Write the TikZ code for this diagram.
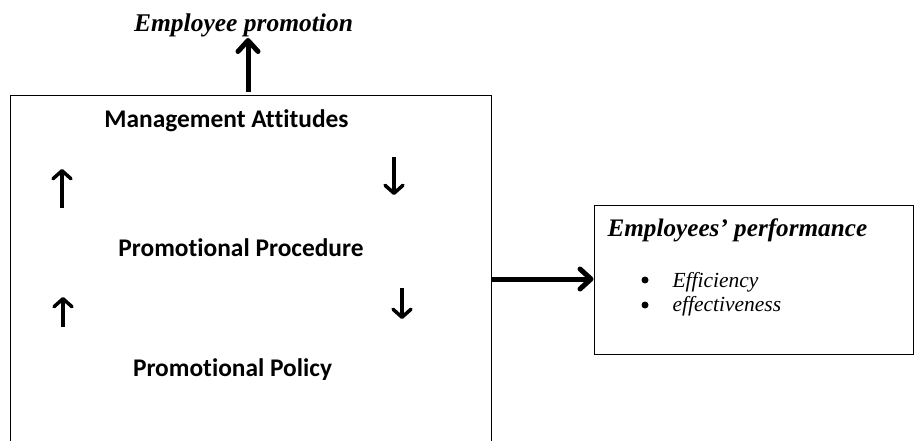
\documentclass[tikz,border=0pt]{standalone}
\usepackage{fontspec}
\setmainfont{Liberation Serif}
\newfontfamily\calibri[Ligatures=NoCommon]{Carlito}
\usepackage{tikz}
\usetikzlibrary{arrows.meta}

\tikzset{
  box/.style={draw, line width=1pt, rectangle, inner sep=0pt},
  factor/.style={font=\calibri\bfseries\fontsize{25.4}{30}\selectfont, anchor=base},
  item/.style={font=\itshape\fontsize{21.5}{25}\selectfont, anchor=base west},
  dot/.style={circle, fill, inner sep=0pt, minimum size=7pt},
  bigarrow/.style={line width=5pt, -{Straight Barb[round,length=11pt,width=20pt,line width=5pt]}},
  smallarrow/.style={line width=4pt, -{Straight Barb[round,length=8pt,width=18pt,line width=3.5pt]}}
}

\begin{document}
\begin{tikzpicture}[x=1pt,y=-1pt]
\useasboundingbox (0,0) rectangle (915,441);

% boxes
\node[box, minimum width=481pt, minimum height=350pt] (frame) at (250.5,271) {};
\node[box, minimum width=319pt, minimum height=149pt] (perf) at (753.5,279.5) {};

% titles
\node[font=\bfseries\itshape\fontsize{25.5}{30}\selectfont, anchor=base] (promo) at (243.5,32) {Employee promotion};
\node[font=\bfseries\itshape\fontsize{25.2}{30}\selectfont, anchor=base west] (perftitle) at (604,236) {Employees’ performance};
\node[item] (eff) at (669,287) {Efficiency};
\node[item] (effv) at (669,311) {effectiveness};
\node[dot] (b1) at (645,280) {};
\node[dot] (b2) at (645,305) {};

% factors
\node[factor] (attitude) at (226.5,128) {Management Attitudes};
\node[factor] (procedure) at (241,256) {Promotional Procedure};
\node[factor] (policy) at (232.5,376) {Promotional Policy};

% links
\coordinate (up1s) at (62,208);
\coordinate (up1e) at (62,169);
\coordinate (dn1s) at (394,157);
\coordinate (dn1e) at (394,195);
\coordinate (up2s) at (63,327);
\coordinate (up2e) at (63,297);
\coordinate (dn2s) at (402,288);
\coordinate (dn2e) at (402,319);
\draw[smallarrow] (up1s) -- (up1e);
\draw[smallarrow] (dn1s) -- (dn1e);
\draw[smallarrow] (up2s) -- (up2e);
\draw[smallarrow] (dn2s) -- (dn2e);

\coordinate (top) at (248,92);
\draw[bigarrow] (top) -- (248,38);
\coordinate (out) at (491,279);
\draw[bigarrow] (out) -- (out -| perf.west);
\end{tikzpicture}
\end{document}
